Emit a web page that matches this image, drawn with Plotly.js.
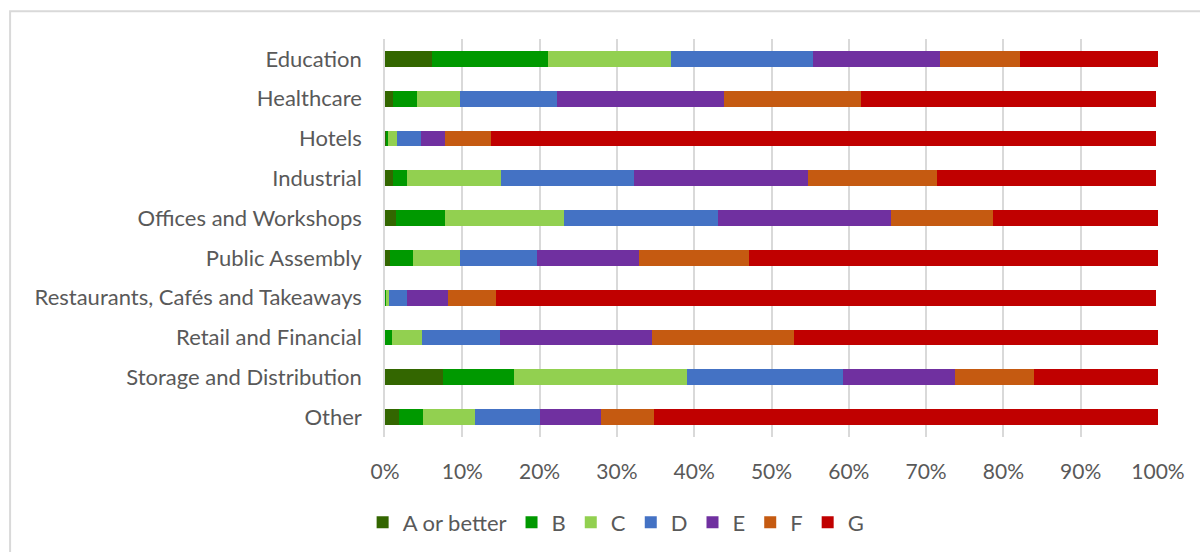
<!DOCTYPE html>
<html>
<head>
<meta charset="utf-8">
<script src="https://cdn.plot.ly/plotly-3.0.1.min.js"></script>
<style>
  html, body { margin: 0; padding: 0; background: #ffffff; }
  #chart { width: 1200px; height: 552px; }
</style>
</head>
<body>
<div id="chart"></div>
<script>
// Building types, top to bottom
const buildingTypes = [
  "Education",
  "Healthcare",
  "Hotels",
  "Industrial",
  "Offices and Workshops",
  "Public Assembly",
  "Restaurants, Cafés and Takeaways",
  "Retail and Financial",
  "Storage and Distribution",
  "Other"
];

// Share of certificates in each rating band (%), one value per building type
const ratingA = [6.1, 1.0, 0.1, 1.0, 1.4, 0.6, 0.0, 0.0, 7.5, 1.8];
const ratingB = [15.0, 3.2, 0.3, 1.9, 6.3, 3.0, 0.1, 0.9, 9.2, 3.1];
const ratingC = [15.9, 5.5, 1.1, 12.1, 15.4, 6.1, 0.4, 3.9, 22.4, 6.7];
const ratingD = [18.4, 12.6, 3.2, 17.2, 20.0, 9.9, 2.4, 10.1, 20.1, 8.4];
const ratingE = [16.4, 21.6, 3.1, 22.5, 22.3, 13.2, 5.2, 19.7, 14.6, 8.0];
const ratingF = [10.4, 17.7, 5.9, 16.7, 13.3, 14.3, 6.3, 18.3, 10.2, 6.8];
const ratingG = [17.8, 38.2, 86.1, 28.4, 21.3, 52.9, 85.4, 47.1, 16.0, 65.2];

const bandNames = ["A or better", "B", "C", "D", "E", "F", "G"];
const bandValues = [ratingA, ratingB, ratingC, ratingD, ratingE, ratingF, ratingG];
const bandColours = ["#336600", "#009900", "#92D050", "#4472C4", "#7030A0", "#C55A11", "#C00000"];

const xTicks = [0, 10, 20, 30, 40, 50, 60, 70, 80, 90, 100];

const font = "Lato, 'Open Sans', sans-serif";

const traces = bandNames.map((name, i) => ({
  type: "bar",
  orientation: "h",
  name: name,
  y: buildingTypes,
  x: bandValues[i],
  marker: { color: bandColours[i], line: { width: 0 } },
  hovertemplate: "%{y}<br>" + name + ": %{x:.1f}%<extra></extra>"
}));

const layout = {
  width: 1200,
  height: 552,
  barmode: "stack",
  bargap: 0.6,
  paper_bgcolor: "#ffffff",
  plot_bgcolor: "#ffffff",
  margin: { l: 385, r: 42, t: 39, b: 115, pad: 0, autoexpand: false },
  font: { family: font, color: "#595959", size: 21 },
  showlegend: true,
  legend: {
    orientation: "h",
    x: 0.299,
    xanchor: "center",
    y: -0.215,
    yanchor: "middle",
    font: { family: font, size: 22, color: "#595959" },
    traceorder: "normal",
    itemclick: false,
    itemdoubleclick: false
  },
  xaxis: {
    range: [0, 100],
    automargin: false,
    tickmode: "array",
    tickvals: xTicks,
    ticktext: xTicks.map(v => v + "%"),
    showgrid: true,
    gridcolor: "#d9d9d9",
    gridwidth: 1.5,
    zeroline: false,
    showline: false,
    ticks: "",
    ticklabelstandoff: 20,
    tickfont: { family: font, size: 21, color: "#595959" },
    fixedrange: true
  },
  yaxis: {
    type: "category",
    autorange: "reversed",
    automargin: false,
    showgrid: false,
    zeroline: false,
    showline: true,
    linecolor: "#d9d9d9",
    linewidth: 1.5,
    ticks: "",
    ticklabelstandoff: 17,
    tickfont: { family: font, size: 22, color: "#595959" },
    fixedrange: true
  },
  shapes: [
    {
      type: "rect",
      xref: "paper", yref: "paper",
      x0: -0.485, x1: 1.2,
      y0: -0.35, y1: 1.07,
      line: { color: "#d9d9d9", width: 2 },
      fillcolor: "rgba(0,0,0,0)",
      layer: "below"
    }
  ]
};

Plotly.newPlot("chart", traces, layout, { displayModeBar: false, responsive: false });
</script>
</body>
</html>
